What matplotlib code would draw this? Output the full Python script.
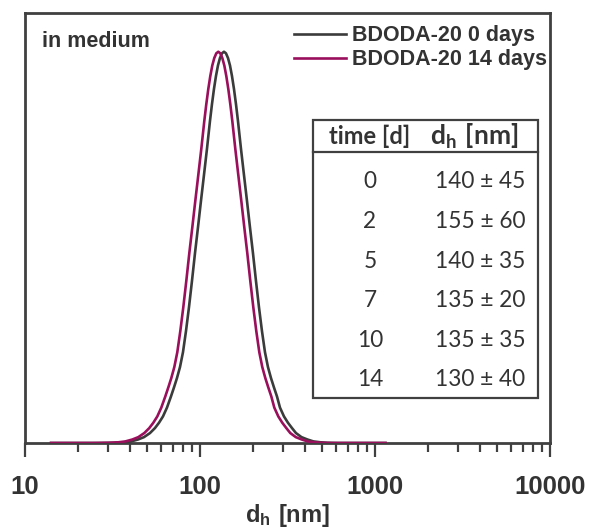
import numpy as np
import matplotlib
matplotlib.use("Agg")
import matplotlib.pyplot as plt
from matplotlib.patches import Rectangle
from matplotlib.ticker import LogLocator, NullFormatter, FixedLocator, FixedFormatter

plt.rcParams['font.family'] = ['Liberation Sans', 'DejaVu Sans']
plt.rcParams['mathtext.fontset'] = 'custom'
plt.rcParams['mathtext.bf'] = 'Lato:bold'
plt.rcParams['mathtext.sf'] = 'Liberation Sans:bold'
plt.rcParams['mathtext.rm'] = 'Lato'

# ---------------- data ----------------
# log10 of hydrodynamic diameter d_h [nm] and relative intensity
logd_0 = [1.149, 1.4227, 1.5084, 1.5656, 1.6056, 1.6456, 1.6799, 1.7141, 1.7427, 1.7656,
          1.7884, 1.8113, 1.8341, 1.8513, 1.8684, 1.8856, 1.9027, 1.9199, 1.937, 1.9541,
          1.9713, 1.9884, 2.0056, 2.0227, 2.0399, 2.057, 2.0684, 2.0799, 2.0913, 2.1027,
          2.1141, 2.1256, 2.137,
          2.1484, 2.1599, 2.1713, 2.1827, 2.1941, 2.2056, 2.217, 2.2341, 2.2513, 2.2684,
          2.2856, 2.3027, 2.3199, 2.337, 2.3541, 2.3713, 2.3884, 2.4056, 2.4227, 2.4399,
          2.457, 2.4799, 2.5027, 2.5256, 2.5484, 2.5799, 2.6141, 2.6484, 2.6884, 2.7284,
          2.7856, 2.8513, 3.06]
int_0 = [0.0, 0.0, 0.0005, 0.0018, 0.004, 0.0089, 0.015, 0.0254, 0.0382, 0.0517,
         0.0679, 0.0905, 0.119, 0.142, 0.166, 0.194, 0.232, 0.286, 0.347, 0.414,
         0.485, 0.551, 0.619, 0.685, 0.752, 0.823, 0.866, 0.905, 0.938, 0.965,
         0.984, 0.996, 1.0,
         0.996, 0.984, 0.965, 0.938, 0.905, 0.866, 0.823, 0.752, 0.685, 0.619,
         0.551, 0.485, 0.414, 0.347, 0.286, 0.232, 0.194, 0.166, 0.142, 0.119,
         0.0905, 0.0679, 0.0517, 0.0382, 0.0254, 0.015, 0.0089, 0.004, 0.0018, 0.0005,
         0.0, 0.0, 0.0]

logd_14 = [1.149, 1.3903, 1.476, 1.5332, 1.5732, 1.6132, 1.6475, 1.6817, 1.7103, 1.7332,
           1.756, 1.7789, 1.8017, 1.8189, 1.836, 1.8532, 1.8703, 1.8875, 1.9046, 1.9217,
           1.9389, 1.956, 1.9732, 1.9903, 2.0075, 2.0246, 2.036, 2.0475, 2.0589, 2.0703,
           2.0817, 2.0932, 2.1046,
           2.116, 2.1275, 2.1389, 2.1503, 2.1617, 2.1732, 2.1846, 2.2017, 2.2189, 2.236,
           2.2532, 2.2703, 2.2875, 2.3046, 2.3217, 2.3389, 2.356, 2.3732, 2.3903, 2.4075,
           2.4246, 2.4475, 2.4703, 2.4932, 2.516, 2.5475, 2.5817, 2.616, 2.656, 2.696,
           2.7532, 2.8189, 3.06]
int_14 = [0.0, 0.0, 0.0005, 0.0018, 0.004, 0.0089, 0.015, 0.0254, 0.0382, 0.0517,
          0.0679, 0.0905, 0.119, 0.142, 0.166, 0.194, 0.232, 0.286, 0.347, 0.414,
          0.485, 0.551, 0.619, 0.685, 0.752, 0.823, 0.866, 0.905, 0.938, 0.965,
          0.984, 0.996, 1.0,
          0.996, 0.984, 0.965, 0.938, 0.905, 0.866, 0.823, 0.752, 0.685, 0.619,
          0.551, 0.485, 0.414, 0.347, 0.286, 0.232, 0.194, 0.166, 0.142, 0.119,
          0.0905, 0.0679, 0.0517, 0.0382, 0.0254, 0.015, 0.0089, 0.004, 0.0018, 0.0005,
          0.0, 0.0, 0.0]

series_labels = ['BDODA-20 0 days', 'BDODA-20 14 days']
series_colors = ['#3b3b3b', '#9a0f5c']

table_time = ['0', '2', '5', '7', '10', '14']
table_dh = ['140 ± 45', '155 ± 60', '140 ± 35', '135 ± 20', '135 ± 35', '130 ± 40']
table_header = ['time [d]', r'$\mathbf{d_h\ [nm]}$']

xticks = [10, 100, 1000, 10000]
xtick_labels = ['10', '100', '1000', '10000']

# ---------------- figure ----------------
W, H = 593, 530
fig = plt.figure(figsize=(W / 100, H / 100), dpi=100)
ax = fig.add_axes([25 / W, 1 - 443 / H, 525 / W, 430 / H])

frame = '#404040'
ax.plot(10 ** np.array(logd_0), int_0, color=series_colors[0], lw=1.9,
        label=series_labels[0], zorder=3, solid_joinstyle='round')
ax.plot(10 ** np.array(logd_14), int_14, color=series_colors[1], lw=1.9,
        label=series_labels[1], zorder=3, solid_joinstyle='round')

ax.set_xscale('log')
ax.set_xlim(10, 10000)
ax.set_ylim(0, 1.099)
ax.set_yticks([])

for s in ax.spines.values():
    s.set_color(frame)
    s.set_linewidth(2.0)

ax.xaxis.set_major_locator(FixedLocator(xticks))
ax.xaxis.set_major_formatter(FixedFormatter(xtick_labels))
ax.xaxis.set_minor_locator(LogLocator(base=10, subs=np.arange(2, 10)))
ax.xaxis.set_minor_formatter(NullFormatter())
ax.tick_params(axis='x', which='major', direction='out', length=10, width=1.6,
               color=frame, pad=13, labelsize=18.5, labelcolor='#333333')
ax.tick_params(axis='x', which='minor', direction='out', length=6.5, width=1.6, color=frame)
for t in ax.get_xticklabels():
    t.set_fontweight('bold')

ax.set_xlabel(r'$\mathsf{d_h\ [nm]}$', fontsize=17, color='#333333', labelpad=2)

ax.text(0.0324, 0.921, 'in medium', transform=ax.transAxes, fontsize=15.5,
        fontweight='bold', color='#333333', va='baseline', ha='left')

leg = ax.legend(loc='upper right', bbox_to_anchor=(0.9937, 0.971), frameon=False,
                borderpad=0, borderaxespad=0, handlelength=2.42, handletextpad=0.27,
                labelspacing=0.12, prop={'family': 'Liberation Sans', 'weight': 'bold', 'size': 15.5})
for t in leg.get_texts():
    t.set_color('#333333')

# ---------------- table ----------------
x0, x1 = (313.3 - 25) / 525, (538.3 - 25) / 525
yt, yb = (443 - 120) / 430, (443 - 398.3) / 430
yh = (443 - 151.7) / 430
ax.add_patch(Rectangle((x0, yb), x1 - x0, yt - yb, transform=ax.transAxes, fill=False,
                       edgecolor=frame, lw=1.6, zorder=4))
ax.plot([x0, x1], [yh, yh], transform=ax.transAxes, color=frame, lw=1.6, zorder=4)
cx1, cx2 = (370 - 25) / 525, (474 - 25) / 525
hy = (443 - 136.7) / 430
tkw = dict(transform=ax.transAxes, ha='center', va='center', color='#333333', zorder=5)
ax.text(cx1, hy, table_header[0], fontsize=17, fontweight='bold', family='Lato', **tkw)
ax.text(cx2, hy, table_header[1], fontsize=19, **tkw)
for k, (a, b) in enumerate(zip(table_time, table_dh)):
    ry = (443 - (181.7 + k * 39.66)) / 430
    ax.text(cx1, ry, a, fontsize=16.3, family='Lato', **tkw)
    ax.text(cx2 + 0.012, ry, b, fontsize=16.3, family='Lato', **tkw)

fig.savefig('out.png', dpi=100)
